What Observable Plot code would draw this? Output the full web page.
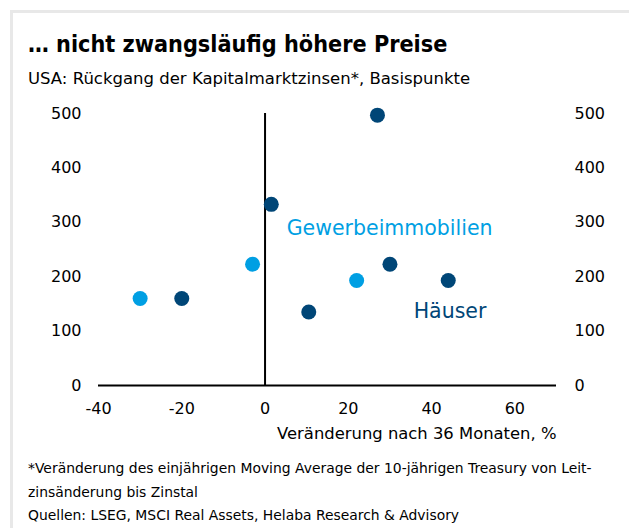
<!DOCTYPE html>
<html>
<head>
<meta charset="utf-8">
<script src="https://cdn.jsdelivr.net/npm/d3@7"></script>
<script src="https://cdn.jsdelivr.net/npm/@observablehq/plot@0.6"></script>
<style>
  html, body { margin: 0; padding: 0; background: #fff; }
  body { width: 629px; height: 528px; position: relative; overflow: hidden; font-family: "DejaVu Sans", sans-serif; color: #000; }
  #frame { position: absolute; left: 10px; top: 10px; width: 640px; height: 540px; border-left: 3px solid #e8e8e8; border-top: 3px solid #e8e8e8; }
  #title { position: absolute; left: 28px; top: 30px; font-family: "DejaVu Sans Condensed", "DejaVu Sans", sans-serif; font-size: 23.2px; font-weight: bold; white-space: nowrap; }
  #subtitle { position: absolute; left: 28px; top: 69px; font-size: 16.5px; white-space: nowrap; }
  #chart { position: absolute; left: 0; top: 100px; }
  #notes { position: absolute; left: 28px; top: 457px; font-size: 13.9px; line-height: 23.5px; white-space: nowrap; }
</style>
</head>
<body>
<div id="frame"></div>
<div id="title">… nicht zwangsläufig höhere Preise</div>
<div id="subtitle">USA: Rückgang der Kapitalmarktzinsen*, Basispunkte</div>
<div id="chart"></div>
<div id="notes">*Veränderung des einjährigen Moving Average der 10-jährigen Treasury von Leit-<br>zinsänderung bis Zinstal<br>Quellen: LSEG, MSCI Real Assets, Helaba Research &amp; Advisory</div>
<script>
// Data
const gewX = [-30, -3, 22];
const gewY = [160, 223, 193];
const hausX = [-20, 1.5, 10.5, 27, 30, 44];
const hausY = [160, 333, 135, 497, 223, 193];
const xTicks = [-40, -20, 0, 20, 40, 60];
const yTicks = [0, 100, 200, 300, 400, 500];
const xLabel = "Veränderung nach 36 Monaten, %";
const seriesNames = ["Gewerbeimmobilien", "Häuser"];
const labelX = [5.2, 35.7];
const labelY = [289, 136];

const lightBlue = "#009fe3";
const darkBlue = "#004677";

const gew = gewX.map((x, i) => ({x, y: gewY[i]}));
const haus = hausX.map((x, i) => ({x, y: hausY[i]}));
const labels = seriesNames.map((name, i) => ({name, x: labelX[i], y: labelY[i]}));

const chart = Plot.plot({
  width: 629,
  height: 350,
  marginLeft: 98,
  marginRight: 73,
  marginTop: 13,
  marginBottom: 65,
  style: {fontFamily: "'DejaVu Sans', sans-serif", fontSize: "16px", color: "#000", background: "transparent"},
  x: {domain: [-40, 70]},
  y: {domain: [0, 500]},
  marks: [
    Plot.axisY({anchor: "left", ticks: yTicks, tickSize: 0, tickPadding: 17, label: null, tickFormat: d => String(d)}),
    Plot.axisY({anchor: "right", ticks: yTicks, tickSize: 0, tickPadding: 18, label: null, tickFormat: d => String(d)}),
    Plot.axisX({ticks: xTicks, tickSize: 0, tickPadding: 17, tickFormat: d => String(d), label: null}),
    Plot.text([xLabel], {frameAnchor: "bottom-right", textAnchor: "end", dy: 53, fontSize: 16.4}),
    Plot.ruleY([0], {stroke: "#000", strokeWidth: 2}),
    Plot.ruleX([0], {y1: 0, y2: 500, stroke: "#000", strokeWidth: 2}),
    Plot.dot(gew, {x: "x", y: "y", r: 7.5, fill: lightBlue}),
    Plot.dot(haus, {x: "x", y: "y", r: 7.5, fill: darkBlue}),
    Plot.text(labels, {x: "x", y: "y", text: "name", textAnchor: "start", fontSize: 20.5,
      fill: (d, i) => i === 0 ? lightBlue : darkBlue})
  ]
});
document.getElementById("chart").appendChild(chart);
</script>
</body>
</html>
